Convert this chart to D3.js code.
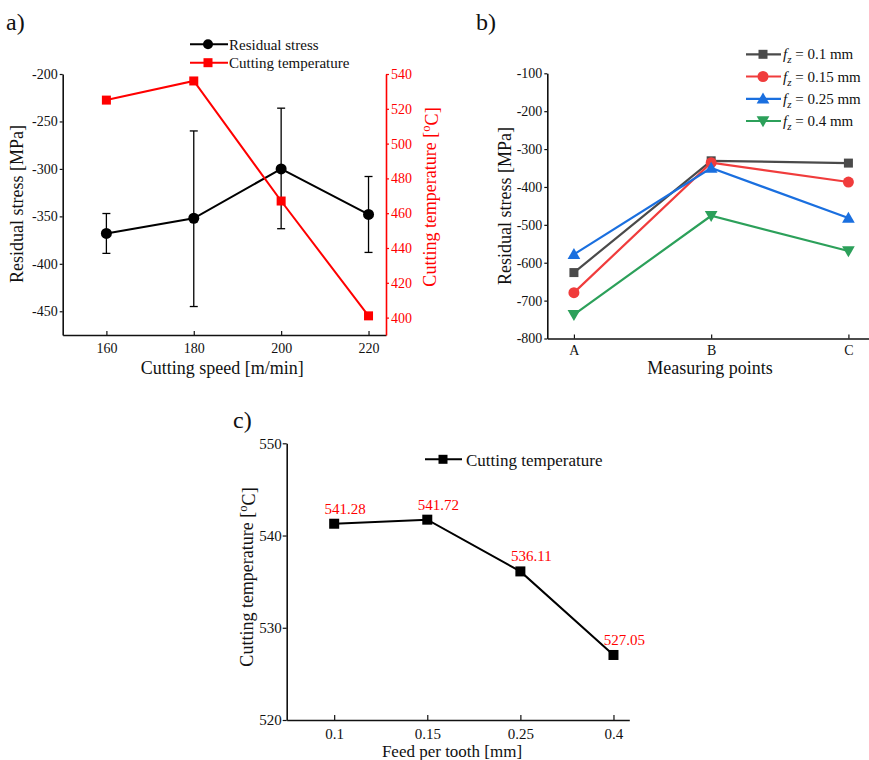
<!DOCTYPE html>
<html><head><meta charset="utf-8">
<script src="https://cdn.jsdelivr.net/npm/d3@7"></script>
<style>
body{margin:0;background:#fff;}
svg text{font-family:"Liberation Serif","Times New Roman",serif;}
</style></head>
<body><svg id="c" width="869" height="760"></svg>
<script>
// ---- Data panel a ----
const speeds = [160, 180, 200, 220];
const stressA = [-368, -352, -300, -348];
const stressErrLow = [-389, -445, -363, -388];
const stressErrHigh = [-347, -260, -236, -308];
const tempA = [525, 536, 467, 401];
const aXTicks = [160, 180, 200, 220];
const aYTicks = [-450, -400, -350, -300, -250, -200];
const aY2Ticks = [400, 420, 440, 460, 480, 500, 520, 540];

// ---- Data panel b ----
const points = ["A", "B", "C"];
const seriesNames = ["0.1", "0.15", "0.25", "0.4"];
const fz01 = [-626, -331, -337];
const fz015 = [-679, -336, -387];
const fz025 = [-578, -350, -482];
const fz04 = [-737, -476, -569];
const bYTicks = [-800, -700, -600, -500, -400, -300, -200, -100];
const bColors = ["#4a4a4a", "#f03c3c", "#1a6fdf", "#2ca05a"];

// ---- Data panel c ----
const feeds = ["0.1", "0.15", "0.25", "0.4"];
const tempC = [541.28, 541.72, 536.11, 527.05];
const cYTicks = [520, 530, 540, 550];

const svg = d3.select("#c");
const TF = 14, TITLE = 18;

function styleAxis(g, color) {
  g.selectAll("path.domain").attr("stroke", color).attr("stroke-width", 1.6);
  g.selectAll(".tick line").attr("stroke", color).attr("stroke-width", 1.2);
  g.selectAll(".tick text").attr("fill", color).attr("font-size", TF)
    .attr("font-family", "Liberation Serif, serif");
}
function tempTitle(sel) {
  sel.append("tspan").text("Cutting temperature [");
  sel.append("tspan").attr("font-size", "0.7em").attr("dy", "-0.45em").text("o");
  sel.append("tspan").attr("dy", "0.45em").text("C]");
}
const hyph = d => String(d);

// ================= Panel a =================
{
  const L = 62.7, R = 386, T = 74, B = 335;
  const x = d3.scaleLinear().domain([150, 224]).range([L, R]);
  const y = d3.scaleLinear().domain([-475, -200]).range([B, T]);
  const y2 = d3.scaleLinear().domain([390, 540]).range([B, T]);

  const gx = svg.append("g").attr("transform", `translate(0,${B})`)
    .call(d3.axisBottom(x).tickValues(aXTicks).tickSize(-4).tickPadding(8).tickSizeOuter(0));
  styleAxis(gx, "#111");
  const gy = svg.append("g").attr("transform", `translate(${L},0)`)
    .call(d3.axisLeft(y).tickValues(aYTicks).tickSize(3).tickPadding(2).tickSizeOuter(0).tickFormat(hyph));
  styleAxis(gy, "#111");
  const gy2 = svg.append("g").attr("transform", `translate(${R},0)`)
    .call(d3.axisRight(y2).tickValues(aY2Ticks).tickSize(3).tickPadding(2).tickSizeOuter(0));
  styleAxis(gy2, "#ff0000");

  // error bars
  const eb = svg.append("g");
  speeds.forEach((s, i) => {
    eb.append("line").attr("x1", x(s)).attr("x2", x(s)).attr("y1", y(stressErrLow[i])).attr("y2", y(stressErrHigh[i]))
      .attr("stroke", "#000").attr("stroke-width", 1.3);
    [stressErrLow[i], stressErrHigh[i]].forEach(v => {
      eb.append("line").attr("x1", x(s) - 4).attr("x2", x(s) + 4).attr("y1", y(v)).attr("y2", y(v))
        .attr("stroke", "#000").attr("stroke-width", 1.3);
    });
  });
  const line = d3.line().x((d, i) => x(speeds[i])).y(d => y(d));
  svg.append("path").attr("d", line(stressA)).attr("fill", "none").attr("stroke", "#000").attr("stroke-width", 2);
  svg.append("g").selectAll("circle").data(stressA).join("circle")
    .attr("cx", (d, i) => x(speeds[i])).attr("cy", d => y(d)).attr("r", 5.5).attr("fill", "#000");

  const line2 = d3.line().x((d, i) => x(speeds[i])).y(d => y2(d));
  svg.append("path").attr("d", line2(tempA)).attr("fill", "none").attr("stroke", "#ff0000").attr("stroke-width", 2);
  svg.append("g").selectAll("rect").data(tempA).join("rect")
    .attr("x", (d, i) => x(speeds[i]) - 4.5).attr("y", d => y2(d) - 4.5).attr("width", 9).attr("height", 9).attr("fill", "#ff0000");

  // legend
  const lg = svg.append("g");
  lg.append("line").attr("x1", 190).attr("x2", 228).attr("y1", 44.3).attr("y2", 44.3).attr("stroke", "#000").attr("stroke-width", 2);
  lg.append("circle").attr("cx", 208).attr("cy", 44.3).attr("r", 5).attr("fill", "#000");
  lg.append("text").attr("x", 229).attr("y", 49.5).attr("font-size", 15).attr("fill", "#111").text("Residual stress");
  lg.append("line").attr("x1", 190).attr("x2", 228).attr("y1", 62.7).attr("y2", 62.7).attr("stroke", "#ff0000").attr("stroke-width", 2);
  lg.append("rect").attr("x", 203.5).attr("y", 58.2).attr("width", 9).attr("height", 9).attr("fill", "#ff0000");
  lg.append("text").attr("x", 229).attr("y", 68).attr("font-size", 15).attr("fill", "#111").text("Cutting temperature");

  svg.append("text").attr("x", (L + R) / 2 - 2).attr("y", 374).attr("text-anchor", "middle").attr("font-size", TITLE).attr("fill", "#111").text("Cutting speed [m/min]");
  svg.append("text").attr("transform", `translate(23,204) rotate(-90)`).attr("text-anchor", "middle").attr("font-size", TITLE).attr("fill", "#111").text("Residual stress [MPa]");
  const t2 = svg.append("text").attr("transform", `translate(436,197) rotate(-90)`).attr("text-anchor", "middle").attr("font-size", TITLE).attr("fill", "#ff0000");
  tempTitle(t2);
  svg.append("text").attr("x", 6).attr("y", 30).attr("font-size", 24).attr("fill", "#111").text("a)");
}

// ================= Panel b =================
{
  const L = 547.3, R = 869, T = 73.3, B = 338.5;
  const x = d3.scaleLinear().domain([-0.194, 2.15]).range([L, R]);
  const y = d3.scaleLinear().domain([-800, -100]).range([B, T]);

  const gx = svg.append("g").attr("transform", `translate(0,${B})`)
    .call(d3.axisBottom(x).tickValues([0, 1, 2]).tickFormat(i => points[i]).tickSize(-4).tickPadding(7).tickSizeOuter(0));
  styleAxis(gx, "#111");
  const gy = svg.append("g").attr("transform", `translate(${L},0)`)
    .call(d3.axisLeft(y).tickValues(bYTicks).tickSize(3).tickPadding(2).tickSizeOuter(0).tickFormat(hyph));
  styleAxis(gy, "#111");

  const all = [fz01, fz015, fz025, fz04];
  const line = d3.line().x((d, i) => x(i)).y(d => y(d));
  const tri = d3.symbol().type(d3.symbolTriangle).size(70);
  function marker(g, k, cx, cy) {
    const c = bColors[k];
    if (k === 0) g.append("rect").attr("x", cx - 4.5).attr("y", cy - 4.5).attr("width", 9).attr("height", 9).attr("fill", c);
    else if (k === 1) g.append("circle").attr("cx", cx).attr("cy", cy).attr("r", 5.5).attr("fill", c);
    else if (k === 2) g.append("path").attr("d", tri()).attr("transform", `translate(${cx},${cy + 1})`).attr("fill", c);
    else g.append("path").attr("d", tri()).attr("transform", `translate(${cx},${cy - 1}) rotate(180)`).attr("fill", c);
  }
  all.forEach((vals, k) => {
    svg.append("path").attr("d", line(vals)).attr("fill", "none").attr("stroke", bColors[k]).attr("stroke-width", 2.2);
    const g = svg.append("g");
    vals.forEach((v, i) => marker(g, k, x(i), y(v)));
  });

  // legend
  const rows = [54.3, 76.5, 98.8, 121];
  seriesNames.forEach((nm, k) => {
    const g = svg.append("g");
    g.append("line").attr("x1", 746).attr("x2", 781).attr("y1", rows[k]).attr("y2", rows[k]).attr("stroke", bColors[k]).attr("stroke-width", 2.2);
    marker(g, k, 763, rows[k]);
    const t = g.append("text").attr("x", 783).attr("y", rows[k] + 5).attr("font-size", 15).attr("fill", "#111");
    t.append("tspan").attr("font-style", "italic").text("f");
    t.append("tspan").attr("font-style", "italic").attr("font-size", 11).attr("dy", 4).text("z");
    t.append("tspan").attr("dy", -4).text(" = " + nm + " mm");
  });

  svg.append("text").attr("x", 710).attr("y", 374).attr("text-anchor", "middle").attr("font-size", TITLE).attr("fill", "#111").text("Measuring points");
  svg.append("text").attr("transform", `translate(511,206) rotate(-90)`).attr("text-anchor", "middle").attr("font-size", TITLE).attr("fill", "#111").text("Residual stress [MPa]");
  svg.append("text").attr("x", 476).attr("y", 30).attr("font-size", 24).attr("fill", "#111").text("b)");
}

// ================= Panel c =================
{
  const L = 286.7, R = 629.3, T = 443.3, B = 720;
  const x = d3.scaleLinear().domain([-0.51, 3.17]).range([L, R]);
  const y = d3.scaleLinear().domain([520, 550]).range([B, T]);

  const gx = svg.append("g").attr("transform", `translate(0,${B})`)
    .call(d3.axisBottom(x).tickValues([0, 1, 2, 3]).tickFormat(i => feeds[i]).tickSize(-5).tickPadding(8).tickSizeOuter(0));
  styleAxis(gx, "#111");
  gx.selectAll(".tick text").attr("font-size", 15);
  const gy = svg.append("g").attr("transform", `translate(${L},0)`)
    .call(d3.axisLeft(y).tickValues(cYTicks).tickSize(4).tickPadding(1).tickSizeOuter(0));
  styleAxis(gy, "#111");
  gy.selectAll(".tick text").attr("font-size", 15);

  const line = d3.line().x((d, i) => x(i)).y(d => y(d));
  svg.append("path").attr("d", line(tempC)).attr("fill", "none").attr("stroke", "#000").attr("stroke-width", 2);
  svg.append("g").selectAll("rect").data(tempC).join("rect")
    .attr("x", (d, i) => x(i) - 5).attr("y", d => y(d) - 5).attr("width", 10).attr("height", 10).attr("fill", "#000");
  svg.append("g").selectAll("text").data(tempC).join("text")
    .attr("x", (d, i) => x(i) + 11).attr("y", d => y(d) - 10).attr("text-anchor", "middle")
    .attr("font-size", 15).attr("fill", "#ff0000").text(d => d.toFixed(2));

  const lg = svg.append("g");
  lg.append("line").attr("x1", 425).attr("x2", 462).attr("y1", 459.3).attr("y2", 459.3).attr("stroke", "#000").attr("stroke-width", 2);
  lg.append("rect").attr("x", 438.5).attr("y", 454.8).attr("width", 9).attr("height", 9).attr("fill", "#000");
  lg.append("text").attr("x", 466).attr("y", 465.5).attr("font-size", 17).attr("fill", "#111").text("Cutting temperature");

  svg.append("text").attr("x", 452).attr("y", 757).attr("text-anchor", "middle").attr("font-size", 17).attr("fill", "#111").text("Feed per tooth [mm]");
  const t = svg.append("text").attr("transform", `translate(253,577) rotate(-90)`).attr("text-anchor", "middle").attr("font-size", TITLE).attr("fill", "#111");
  tempTitle(t);
  svg.append("text").attr("x", 233).attr("y", 428).attr("font-size", 24).attr("fill", "#111").text("c)");
}
</script></body></html>
